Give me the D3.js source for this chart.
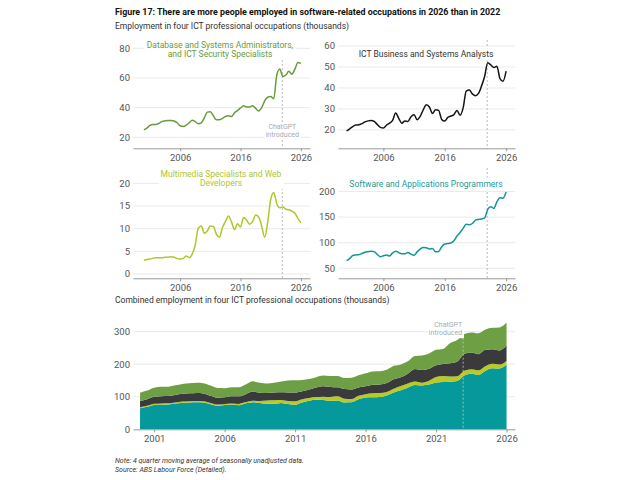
<!DOCTYPE html>
<html>
<head>
<meta charset="utf-8">
<script src="https://d3js.org/d3.v7.min.js"></script>
<style>
body { margin: 0; background: #fff; }
text { font-family: Roboto, "Liberation Sans", sans-serif; }
</style>
</head>
<body>
<div id="chart"></div>
<script>
// half-yearly points, 4 quarter moving average (thousands)
var periods = [2000, 2000.5, 2001, 2001.5, 2002, 2002.5, 2003, 2003.5, 2004, 2004.5,
  2005, 2005.5, 2006, 2006.5, 2007, 2007.5, 2008, 2008.5, 2009, 2009.5,
  2010, 2010.5, 2011, 2011.5, 2012, 2012.5, 2013, 2013.5, 2014, 2014.5,
  2015, 2015.5, 2016, 2016.5, 2017, 2017.5, 2018, 2018.5, 2019, 2019.5,
  2020, 2020.5, 2021, 2021.5, 2022, 2022.5, 2023, 2023.5, 2024, 2024.5,
  2025, 2025.5, 2026];

var dbAdmins = [25, 26.2, 28, 28.7, 28.6, 29.5, 30.6, 31.1, 31.4, 31.4,
  31, 29.8, 27.8, 27.3, 28.2, 29.8, 31.5, 30.6, 29.2, 29.8,
  33, 37, 37.3, 34.5, 31.8, 31.8, 32.8, 34, 34.5, 34,
  36.5, 38, 39.8, 41.2, 40.5, 40.5, 41.2, 39.5, 37.8, 40,
  44.5, 47, 47.5, 46, 62, 66, 61, 62, 64.5, 62.5,
  66, 70.5, 69.8];

var analysts = [19.5, 20.5, 21.6, 22.3, 22.4, 23, 23.8, 24.3, 24.5, 24,
  22.6, 21.2, 20.9, 22.2, 23.2, 24.5, 28, 25.5, 23.2, 24.2,
  24, 26.3, 27.2, 24.8, 26.4, 29.6, 32, 30.9, 27.8, 29.6,
  29.3, 25, 24.2, 26, 26.6, 27.3, 29.2, 27, 30.5, 38.5,
  39, 37.2, 36.3, 37.4, 41, 45.5, 52, 51, 49.8, 50.4,
  44.5, 43.2, 48];

var multimedia = [3.0, 3.2, 3.3, 3.5, 3.6, 3.6, 3.6, 3.7, 3.7, 3.8,
  3.7, 3.4, 3.3, 3.4, 4.0, 3.6, 4.4, 6.4, 10.1, 10.6,
  9.0, 9.5, 10.6, 10.5, 8.8, 8.1, 10.2, 11.6, 12.8, 11.5,
  9.8, 11.1, 10.4, 12.5, 11.9, 11.0, 11.6, 13.0, 12.6, 10.6,
  8.1, 11.5, 16.5, 18.0, 15.5, 14.6, 14.8, 14.3, 14.2, 13.9,
  13.4, 12.3, 11.3];

var software = [65, 69, 75, 76, 76.5, 79, 81.5, 82.5, 83.5, 82.5,
  77, 72.5, 74.5, 76, 74, 80, 83.5, 80.5, 78.5, 78.5,
  81, 77.5, 75.5, 82, 87.5, 90.8, 90, 87.5, 88.5, 82.5,
  83, 92, 97.5, 98.2, 99.5, 104, 113, 120, 128, 136,
  135, 137.5, 144, 145.5, 146.5, 148.5, 165, 170.5, 167, 180,
  188, 187, 199];

var chatgptDate = 2022.92;
var smallXTicks = [2006, 2016, 2026];
var bottomXTicks = [2001, 2006, 2011, 2016, 2021, 2026];
var bottomYTicks = [0, 100, 200, 300];

var gridColor = "#e4e4e4",
    axisColor = "#999",
    tickText = "#555",
    refColor = "#aaa";

var svg = d3.select("#chart").append("svg")
    .attr("width", 640)
    .attr("height", 480);

svg.append("rect").attr("width", 640).attr("height", 480).attr("fill", "#fff");

svg.append("text")
    .attr("x", 115).attr("y", 14.5)
    .attr("font-size", 8.85).attr("font-weight", "bold").attr("fill", "#111")
    .text("Figure 17: There are more people employed in software-related occupations in 2026 than in 2022");

svg.append("text")
    .attr("x", 115).attr("y", 29)
    .attr("font-size", 8.5).attr("fill", "#333")
    .text("Employment in four ICT professional occupations (thousands)");

// put a white box behind a block of text
function boxBehind(g, pad) {
    var bb = g.node().getBBox();
    g.insert("rect", ":first-child")
        .attr("x", bb.x - pad).attr("y", bb.y - 1)
        .attr("width", bb.width + 2 * pad).attr("height", bb.height + 2)
        .attr("fill", "#fff");
}

function xAxis(g, x, ticks, yPos) {
    var ax = g.append("g")
        .attr("transform", "translate(0," + yPos + ")")
        .call(d3.axisBottom(x).tickValues(ticks).tickSize(3).tickSizeOuter(0).tickFormat(d3.format("d")));
    ax.select(".domain").attr("stroke", axisColor);
    ax.selectAll(".tick line").attr("stroke", axisColor);
    ax.selectAll(".tick text").attr("fill", tickText).attr("font-size", 9.5)
        .attr("font-family", "Roboto, 'Liberation Sans', sans-serif");
}

function drawSmall(cfg) {
    var x = d3.scaleLinear().domain(cfg.xDomain).range(cfg.xRange);
    var y = d3.scaleLinear().domain(cfg.yDomain).range(cfg.yRange);
    var g = svg.append("g");

    g.selectAll(".grid").data(cfg.yTicks).enter().append("line")
        .attr("x1", cfg.xRange[0]).attr("x2", cfg.xRange[1])
        .attr("y1", function (d) { return y(d); })
        .attr("y2", function (d) { return y(d); })
        .attr("stroke", gridColor).attr("stroke-width", 0.8);

    g.selectAll(".ylab").data(cfg.yTicks).enter().append("text")
        .attr("x", cfg.xRange[0] - 3)
        .attr("y", function (d) { return y(d); })
        .attr("dy", "0.35em")
        .attr("text-anchor", "end")
        .attr("font-size", 9.5).attr("fill", tickText)
        .text(function (d) { return d; });

    g.append("line")
        .attr("x1", x(chatgptDate)).attr("x2", x(chatgptDate))
        .attr("y1", cfg.yRange[1]).attr("y2", cfg.yRange[0])
        .attr("stroke", refColor).attr("stroke-width", 0.8)
        .attr("stroke-dasharray", "2,2");

    if (cfg.refLabel) {
        var lab = g.append("g");
        lab.append("text").attr("x", x(chatgptDate)).attr("y", cfg.refLabelY)
            .attr("text-anchor", "middle").attr("font-size", 7).attr("fill", refColor)
            .text("ChatGPT");
        lab.append("text").attr("x", x(chatgptDate)).attr("y", cfg.refLabelY + 7.8)
            .attr("text-anchor", "middle").attr("font-size", 7).attr("fill", refColor)
            .text("introduced");
        boxBehind(lab, 1);
    }

    var rows = periods.map(function (p, i) { return { t: p, v: cfg.values[i] }; });
    var line = d3.line()
        .x(function (d) { return x(d.t); })
        .y(function (d) { return y(d.v); })
        .curve(d3.curveMonotoneX);

    g.append("path").datum(rows)
        .attr("d", line)
        .attr("fill", "none")
        .attr("stroke", cfg.color)
        .attr("stroke-width", 1.5)
        .attr("stroke-linejoin", "round");

    var tg = g.append("g");
    cfg.title.forEach(function (t, i) {
        tg.append("text")
            .attr("x", cfg.titleX).attr("y", cfg.titleY + i * 9.5)
            .attr("text-anchor", "middle")
            .attr("font-size", 8.5).attr("fill", cfg.titleColor)
            .text(t);
    });
    boxBehind(tg, 2);

    xAxis(g, x, smallXTicks, cfg.yRange[0]);
}

drawSmall({
    values: dbAdmins, color: "#6a9a3e", titleColor: "#6a9a3e",
    title: ["Database and Systems Administrators,", "and ICT Security Specialists"],
    titleX: 220, titleY: 47.7,
    xDomain: [1998.2, 2027.5], xRange: [133, 310],
    yDomain: [12.6, 85.6], yRange: [148.3, 40],
    yTicks: [20, 40, 60, 80],
    refLabel: true, refLabelY: 129.2
});

drawSmall({
    values: analysts, color: "#151515", titleColor: "#333",
    title: ["ICT Business and Systems Analysts"],
    titleX: 426, titleY: 57.3,
    xDomain: [1998.6, 2027.45], xRange: [338, 515],
    yDomain: [11.2, 62.9], yRange: [148.3, 40],
    yTicks: [20, 30, 40, 50, 60],
    refLabel: false
});

drawSmall({
    values: multimedia, color: "#b2c52a", titleColor: "#b2c52a",
    title: ["Multimedia Specialists and Web", "Developers"],
    titleX: 221, titleY: 176.6,
    xDomain: [1998.2, 2027.5], xRange: [133, 310],
    yDomain: [-0.95, 23.4], yRange: [278.3, 168],
    yTicks: [0, 5, 10, 15, 20],
    refLabel: false
});

drawSmall({
    values: software, color: "#129595", titleColor: "#1a9a9a",
    title: ["Software and Applications Programmers"],
    titleX: 426, titleY: 186.6,
    xDomain: [1998.6, 2027.45], xRange: [338, 515],
    yDomain: [30.4, 246], yRange: [278.3, 168],
    yTicks: [50, 100, 150, 200],
    refLabel: false
});

// combined stacked area
svg.append("text")
    .attr("x", 115).attr("y", 303)
    .attr("font-size", 8.5).attr("fill", "#333")
    .text("Combined employment in four ICT professional occupations (thousands)");

var bx = d3.scaleLinear().domain([1999.5, 2026.6]).range([133, 515]);
var by = d3.scaleLinear().domain([0, 330.7]).range([429.3, 321.7]);
var bg = svg.append("g");

bg.selectAll(".grid").data(bottomYTicks.slice(1)).enter().append("line")
    .attr("x1", 133).attr("x2", 515)
    .attr("y1", function (d) { return by(d); })
    .attr("y2", function (d) { return by(d); })
    .attr("stroke", gridColor).attr("stroke-width", 0.8);

bg.selectAll(".ylab").data(bottomYTicks).enter().append("text")
    .attr("x", 130)
    .attr("y", function (d) { return by(d); })
    .attr("dy", "0.35em")
    .attr("text-anchor", "end")
    .attr("font-size", 9.5).attr("fill", tickText)
    .text(function (d) { return d; });

var table = periods.map(function (p, i) {
    return { t: p, software: software[i], multimedia: multimedia[i], analysts: analysts[i], db: dbAdmins[i] };
});
var keys = ["software", "multimedia", "analysts", "db"];
var fills = { software: "#06999c", multimedia: "#b8cb22", analysts: "#3a3a3d", db: "#6f9f45" };
var series = d3.stack().keys(keys)(table);

var area = d3.area()
    .x(function (d) { return bx(d.data.t); })
    .y0(function (d) { return by(d[0]); })
    .y1(function (d) { return by(d[1]); })
    .curve(d3.curveMonotoneX);

bg.selectAll(".layer").data(series).enter().append("path")
    .attr("d", area)
    .attr("fill", function (d) { return fills[d.key]; });

bg.append("line")
    .attr("x1", bx(chatgptDate)).attr("x2", bx(chatgptDate))
    .attr("y1", 321.7).attr("y2", 429.3)
    .attr("stroke", "#c8c8c8").attr("stroke-width", 0.8)
    .attr("stroke-dasharray", "2,2");

var blab = bg.append("g");
blab.append("text").attr("x", bx(chatgptDate) - 1).attr("y", 326.8)
    .attr("text-anchor", "end").attr("font-size", 7).attr("fill", refColor).text("ChatGPT");
blab.append("text").attr("x", bx(chatgptDate) - 1).attr("y", 335.2)
    .attr("text-anchor", "end").attr("font-size", 7).attr("fill", refColor).text("introduced");
boxBehind(blab, 1);

xAxis(bg, bx, bottomXTicks, 429.3);

svg.append("text")
    .attr("x", 115).attr("y", 463)
    .attr("font-size", 7).attr("font-style", "italic").attr("fill", "#333")
    .text("Note: 4 quarter moving average of seasonally unadjusted data.");
svg.append("text")
    .attr("x", 115).attr("y", 472)
    .attr("font-size", 7).attr("font-style", "italic").attr("fill", "#333")
    .text("Source: ABS Labour Force (Detailed).");
</script>
</body>
</html>
